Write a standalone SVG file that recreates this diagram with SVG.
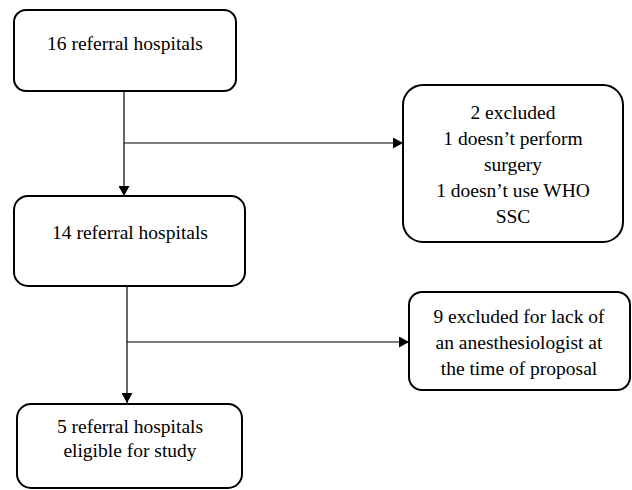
<svg xmlns="http://www.w3.org/2000/svg" width="632" height="490" viewBox="0 0 632 490">
<defs>
<marker id="arr" markerWidth="10" markerHeight="11" refX="10" refY="5.5" orient="auto" markerUnits="userSpaceOnUse">
<path d="M0,0 L10,5.5 L0,11 Z" fill="#000"/>
</marker>
<style>
.box{fill:#fff;stroke:#000;stroke-width:2}
.t{font-family:'Liberation Serif','Times New Roman',serif;font-size:19.5px;fill:#000;text-anchor:middle}
.c{stroke:#000;stroke-width:1.2;fill:none}
</style>
</defs>
<rect width="632" height="490" fill="#fff"/>
<g id="connectors">
<line class="c" x1="124" y1="91" x2="124" y2="196" marker-end="url(#arr)"/>
<line class="c" x1="124" y1="143" x2="403" y2="143" marker-end="url(#arr)"/>
<line class="c" x1="127" y1="286" x2="127" y2="403" marker-end="url(#arr)"/>
<line class="c" x1="127" y1="342" x2="409" y2="342" marker-end="url(#arr)"/>
</g>
<g id="n1">
<rect class="box" x="14" y="10" width="222" height="81" rx="12"/>
<text class="t" x="125" y="50">16 referral hospitals</text>
</g>
<g id="n2">
<rect class="box" x="403" y="85" width="220" height="157" rx="20"/>
<text class="t" x="513" y="119">2 excluded</text>
<text class="t" x="513" y="145">1 doesn’t perform</text>
<text class="t" x="513" y="171">surgery</text>
<text class="t" x="513" y="197">1 doesn’t use WHO</text>
<text class="t" x="513" y="223">SSC</text>
</g>
<g id="n3">
<rect class="box" x="14" y="196" width="231" height="90" rx="14"/>
<text class="t" x="130" y="239">14 referral hospitals</text>
</g>
<g id="n4">
<rect class="box" x="409" y="292" width="221" height="98" rx="13"/>
<text class="t" x="519" y="323">9 excluded for lack of</text>
<text class="t" x="519" y="349">an anesthesiologist at</text>
<text class="t" x="519" y="375">the time of proposal</text>
</g>
<g id="n5">
<rect class="box" x="17" y="404" width="225" height="84" rx="14"/>
<text class="t" x="130" y="433">5 referral hospitals</text>
<text class="t" x="130" y="457">eligible for study</text>
</g>
</svg>
